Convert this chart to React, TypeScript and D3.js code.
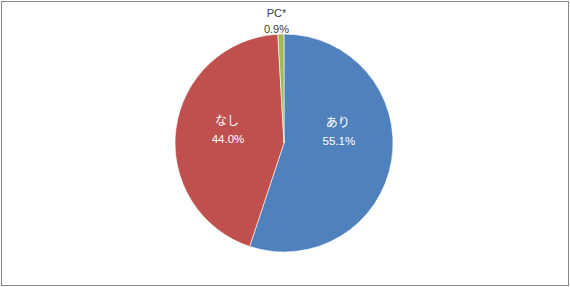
import React from "react";
import * as d3 from "d3";

const categories = ["あり", "なし", "PC*"];
const values = [55.1, 44.0, 0.9];
const valueLabels = ["55.1%", "44.0%", "0.9%"];
const colors = ["#4F81BD", "#C0504D", "#9BBB59"];

const W = 570;
const H = 287;
const cx = 284;
const cy = 143;
const R = 109;

// label placement tweaks (Excel best-fit style)
const labelTweaks: Record<string, { dx: number; dy: number }> = {
  "あり": { dx: 0, dy: -20 },
  "なし": { dx: -3, dy: -6 },
};

export default function App() {
  const data = categories.map((c, i) => ({ name: c, value: values[i], label: valueLabels[i], color: colors[i] }));
  const pie = d3.pie<any>().value((d) => d.value).sort(null);
  const arcs = pie(data);
  const arc = d3.arc<any>().innerRadius(0).outerRadius(R);
  const labelArc = d3.arc<any>().innerRadius(R * 0.5).outerRadius(R * 0.5);
  const outerArc = d3.arc<any>().innerRadius(R + 18).outerRadius(R + 18);
  const jp = "'Noto Sans CJK JP', sans-serif";
  const num = "'Liberation Sans', Arial, sans-serif";

  return (
    <svg width={W} height={H} style={{ position: "absolute", left: 0, top: 0 }}>
      <rect x={0} y={0} width={W} height={H} fill="#fff" />
      <rect x={1.5} y={1.5} width={567} height={284} fill="none" stroke="#868686" strokeWidth={1} />
      <g transform={`translate(${cx},${cy})`}>
        {arcs.map((a, i) => (
          <path key={i} d={arc(a) as string} fill={a.data.color} stroke="#fff" strokeWidth={0.6} />
        ))}
        {arcs.map((a, i) => {
          const inside = a.data.value > 5;
          if (inside) {
            const [x, y] = labelArc.centroid(a);
            const t = labelTweaks[a.data.name] || { dx: 0, dy: 0 };
            return (
              <g key={"l" + i} transform={`translate(${x + t.dx},${y + t.dy})`} fill="#fff">
                <text textAnchor="middle" y={-10} dominantBaseline="central" fontFamily={jp} fontSize={12}>
                  {a.data.name}
                </text>
                <text textAnchor="middle" x={1} y={9} dominantBaseline="central" fontFamily={num} fontSize={11.5}>
                  {a.data.label}
                </text>
              </g>
            );
          }
          const [x, y] = outerArc.centroid(a);
          return (
            <g key={"l" + i} transform={`translate(${x - 4},${y + 5})`} fill="#404040">
              <text textAnchor="middle" y={-8} dominantBaseline="central" fontFamily={num} fontSize={11}>
                {a.data.name}
              </text>
              <text textAnchor="middle" y={8} dominantBaseline="central" fontFamily={num} fontSize={11}>
                {a.data.label}
              </text>
            </g>
          );
        })}
      </g>
    </svg>
  );
}
